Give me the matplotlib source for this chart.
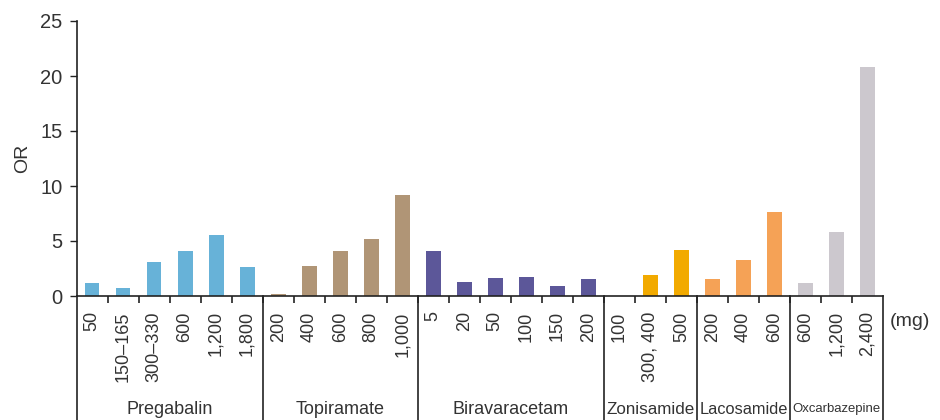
import matplotlib
matplotlib.use("Agg")
import matplotlib.pyplot as plt
import matplotlib.transforms as mtransforms
import numpy as np

# Odds ratios by daily dose, grouped by drug
drugs = ["Pregabalin", "Topiramate", "Biravaracetam", "Zonisamide", "Lacosamide", "Oxcarbazepine"]
doses = [
    ["50", "150\u2013165", "300\u2013330", "600", "1,200", "1,800"],
    ["200", "400", "600", "800", "1,000"],
    ["5", "20", "50", "100", "150", "200"],
    ["100", "300, 400", "500"],
    ["200", "400", "600"],
    ["600", "1,200", "2,400"],
]
odds = [
    [1.2, 0.75, 3.1, 4.1, 5.55, 2.65],
    [0.2, 2.75, 4.1, 5.2, 9.2],
    [4.1, 1.25, 1.65, 1.75, 0.9, 1.55],
    [0.0, 1.9, 4.2],
    [1.55, 3.3, 7.65],
    [1.2, 5.8, 20.85],
]
colors = ["#67b2d8", "#b09576", "#5c5799", "#f2aa00", "#f5a256", "#ccc8ce"]

text_color = "#333333"
line_color = "#222222"
plt.rcParams["font.family"] = ["Liberation Sans", "DejaVu Sans"]

W, H = 940, 420
fig = plt.figure(figsize=(W / 100, H / 100), dpi=100)
x0, x1, y0, y1 = 76.5, 883, 296, 21
ax = fig.add_axes([x0 / W, 1 - y0 / H, (x1 - x0) / W, (y0 - y1) / H])

labels, pos = [], []
bounds = [-0.5]
i = 0
for name, d, v, c in zip(drugs, doses, odds, colors):
    xs = np.arange(i, i + len(d))
    ax.bar(xs, v, width=0.48, color=c, zorder=2)
    labels += d
    pos += list(xs)
    i += len(d)
    bounds.append(i - 0.5)

n = len(labels)
ax.set_xlim(-0.5, n - 0.5)
ax.set_ylim(0, 25)
ax.set_yticks(np.arange(0, 26, 5))
ax.tick_params(axis="y", direction="out", length=5, width=1, pad=5,
               labelsize=14.5, colors=line_color, labelcolor=text_color)
ax.set_ylabel("OR", fontsize=14, color=text_color, labelpad=7)

ax.set_xticks(pos)
ax.set_xticklabels(labels, rotation=90, fontsize=13, color=text_color)
ax.tick_params(axis="x", which="major", length=0, pad=11)
ax.set_xticks(np.arange(0.5, n - 1, 1), minor=True)
ax.tick_params(axis="x", which="minor", direction="out", length=5, width=1.2, color=line_color)

for s in ["top", "right"]:
    ax.spines[s].set_visible(False)
for s in ["left", "bottom"]:
    ax.spines[s].set_color(line_color)
    ax.spines[s].set_linewidth(1.2)

# Group dividers running down to the bottom edge
trans = mtransforms.blended_transform_factory(ax.transData, ax.transAxes)
ybot = -(H - y0) / (y0 - y1) - 0.02
for b in bounds:
    ax.plot([b, b], [0, ybot], color=line_color, lw=1.2, transform=trans, clip_on=False)

# Drug names under each group, shrunk to fit between the dividers
renderer = fig.canvas.get_renderer()
slot = (x1 - x0) / n
start = 0
ylab = -(409 - y0) / (y0 - y1)
for name, d in zip(drugs, doses):
    mid = start + (len(d) - 1) / 2
    t = ax.text(mid, ylab, name, transform=trans, ha="center", va="center",
                fontsize=13, color=text_color)
    avail = len(d) * slot - 5
    w = t.get_window_extent(renderer).width
    if w > avail:
        t.set_fontsize(13 * avail / w)
    start += len(d)

fig.text(910 / W, 1 - 322 / H, "(mg)", ha="center", va="center", fontsize=14, color=text_color)

fig.savefig("out.png", dpi=100)
